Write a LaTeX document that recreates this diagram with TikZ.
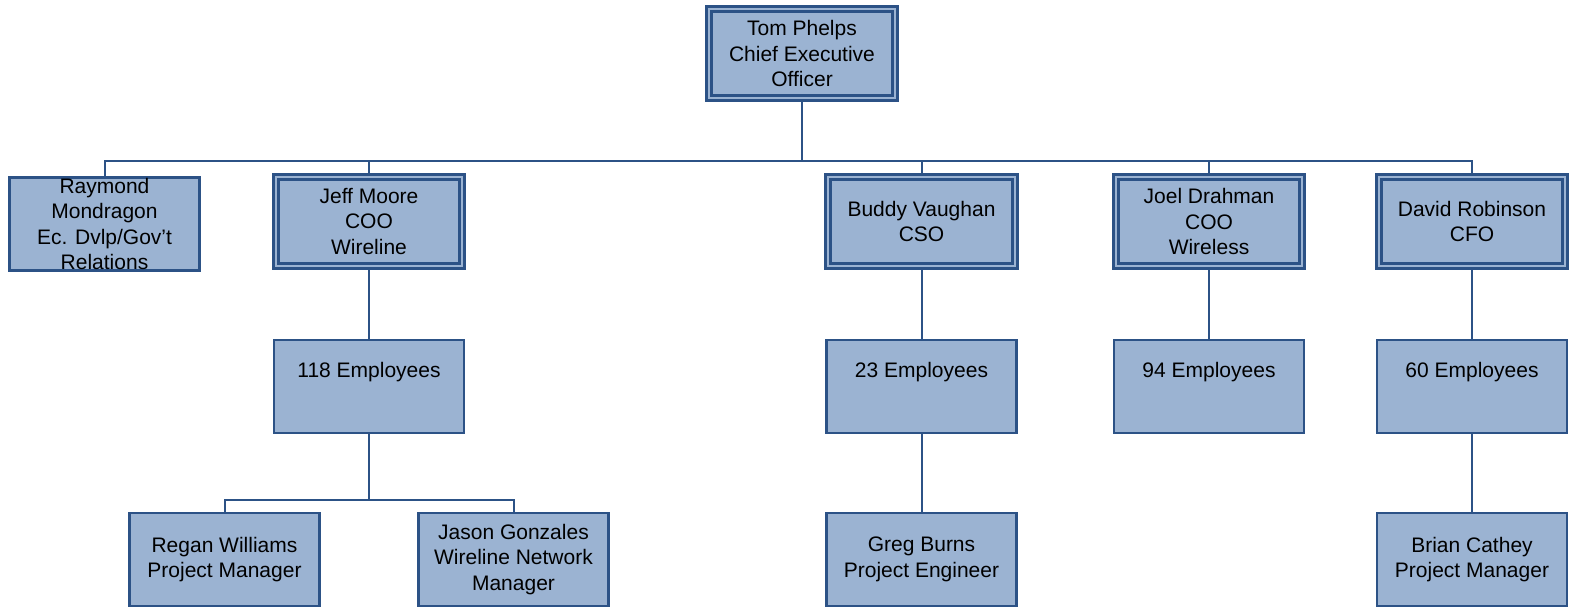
\documentclass[tikz,border=0pt]{standalone}
\usepackage{fontspec}
\setmainfont{Liberation Sans}
\definecolor{boxfill}{RGB}{155,179,210}
\definecolor{boxline}{RGB}{44,82,134}
\begin{document}
\begin{tikzpicture}[x=0.5pt,y=-0.5pt,
  every node/.style={font=\fontsize{10.5}{12.75}\selectfont, align=center, inner sep=0pt, text=black},
  plainbox/.style={draw=boxline, fill=boxfill, line width=1.25pt, minimum width=95pt, minimum height=46.5pt},
  dblbox/.style={draw=boxline, fill=boxfill, line width=1.3pt, double=boxfill, double distance=1.2pt, minimum width=93.25pt, minimum height=44.5pt},
  conn/.style={draw=boxline, line width=1pt}]
\useasboundingbox (0,0) rectangle (1569,609);
\coordinate (bus) at (0,161);
\coordinate (sub) at (0,500);
% nodes
\node[dblbox] (ceo) at (802,53.5) {Tom Phelps\\Chief Executive\\Officer};
\node[plainbox] (ray) at (104.5,224) {Raymond\\Mondragon\\Ec. Dvlp/Gov’t\\Relations};
\node[dblbox] (jeff) at (369,221.5) {Jeff Moore\\COO\\Wireline};
\node[dblbox] (buddy) at (921.5,221.5) {Buddy Vaughan\\CSO};
\node[dblbox] (joel) at (1209,221.5) {Joel Drahman\\COO\\Wireless};
\node[dblbox] (david) at (1472,221.5) {David Robinson\\CFO};
\node[plainbox] (emp1) at (369,386.5) {118 Employees\\\strut};
\node[plainbox] (emp2) at (921.5,386.5) {23 Employees\\\strut};
\node[plainbox] (emp3) at (1209,386.5) {94 Employees\\\strut};
\node[plainbox] (emp4) at (1472,386.5) {60 Employees\\\strut};
\node[plainbox] (regan) at (224.5,559.5) {Regan Williams\\Project Manager};
\node[plainbox] (jason) at (513.5,559.5) {Jason Gonzales\\Wireline Network\\Manager};
\node[plainbox] (greg) at (921.5,559.5) {Greg Burns\\Project Engineer};
\node[plainbox] (brian) at (1472,559.5) {Brian Cathey\\Project Manager};
% connectors
\draw[conn] (ceo.south) -- (ceo.south |- bus);
\draw[conn] (ray.north) -- (ray.north |- bus) -- (david.north |- bus) -- (david.north);
\draw[conn] (jeff.north) -- (jeff.north |- bus);
\draw[conn] (buddy.north) -- (buddy.north |- bus);
\draw[conn] (joel.north) -- (joel.north |- bus);
\draw[conn] (jeff.south) -- (emp1.north);
\draw[conn] (buddy.south) -- (emp2.north);
\draw[conn] (joel.south) -- (emp3.north);
\draw[conn] (david.south) -- (emp4.north);
\draw[conn] (emp1.south) -- (emp1.south |- sub);
\draw[conn] (regan.north) -- (regan.north |- sub) -- (jason.north |- sub) -- (jason.north);
\draw[conn] (emp2.south) -- (greg.north);
\draw[conn] (emp4.south) -- (brian.north);
\end{tikzpicture}
\end{document}
